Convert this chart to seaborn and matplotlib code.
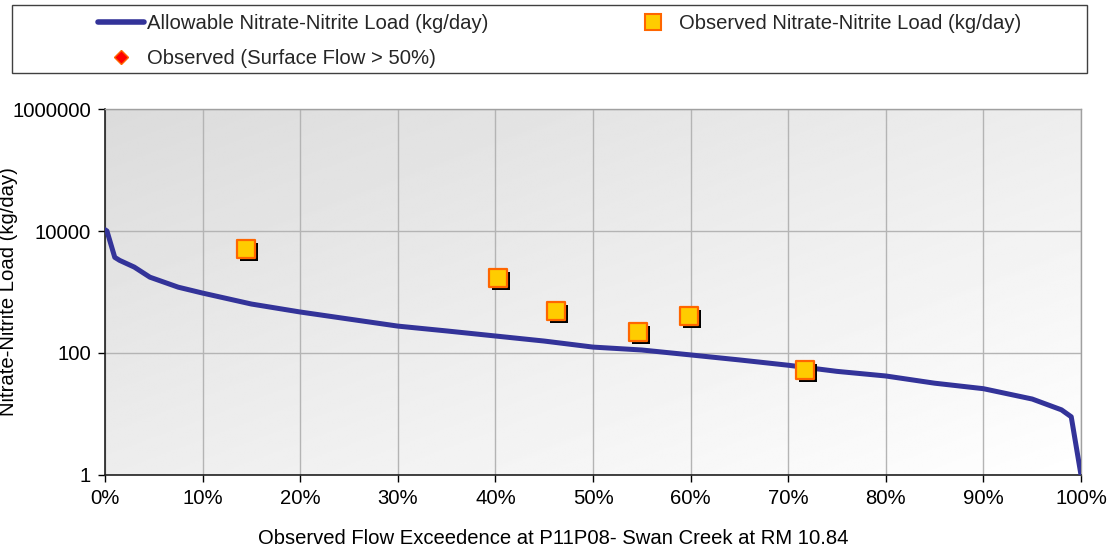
import numpy as np
import matplotlib
matplotlib.use("Agg")
import matplotlib.pyplot as plt
import matplotlib.transforms as mtransforms
from matplotlib.patches import Rectangle
from matplotlib.lines import Line2D
import seaborn as sns

sns.set_theme(style="white")
plt.rcParams['font.family'] = ['Liberation Sans', 'DejaVu Sans']

# Data
curve_pct = [0, 0.2, 1.0, 1.5, 3, 4.6, 7.5, 10, 15, 20, 25, 30, 35, 40, 45, 50, 55, 60, 65,
             70, 75, 80, 85, 90, 95, 98, 99, 100]
curve_load = [10500, 10000, 3700, 3300, 2560, 1750, 1200, 960, 635, 470, 360, 276, 230, 190,
              157, 125, 112, 93, 77, 63, 50, 42, 32, 26, 17.6, 11.7, 9.0, 1]
obs_pct = [14.4, 40.3, 46.2, 54.6, 59.8, 71.7]
obs_load = [5000, 1700, 490, 220, 405, 53]
surf_pct = []
surf_load = []

y_ticks = [1, 100, 10000, 1000000]
y_ticklabels = ["1", "100", "10000", "1000000"]
x_ticks = list(range(0, 101, 10))
x_ticklabels = [f"{v}%" for v in x_ticks]

FS = 14.6
W, H = 1113, 550
fig = plt.figure(figsize=(W / 100, H / 100), dpi=100)
AX_L, AX_R, AX_T, AX_B = 105, 1081, 109, 475
ax = fig.add_axes([AX_L / W, 1 - AX_B / H, (AX_R - AX_L) / W, (AX_B - AX_T) / H])

# gradient background: darker at top-left, white at bottom-right
gx, gy = np.meshgrid(np.linspace(0, 1, 200), np.linspace(0, 1, 200))
g = 0.5 * (gx + gy)
grad = 0.86 + 0.14 * g
ax.imshow(grad, cmap="gray", vmin=0, vmax=1, extent=[0, 1, 0, 1], origin="upper",
          transform=ax.transAxes, aspect="auto", zorder=0, interpolation="bilinear")

ax.set_yscale("log")
ax.set_xlim(0, 100)
ax.set_ylim(1, 1000000)

ax.grid(True, which="major", color="#b4b4b4", linewidth=1.0, zorder=1)
ax.set_axisbelow(True)

sns.lineplot(x=curve_pct, y=curve_load, ax=ax, color="#333399", linewidth=3.6,
             zorder=3, legend=False, sort=False)

shadow = mtransforms.offset_copy(ax.transData, fig=fig, x=3, y=-3, units="dots")
sns.scatterplot(x=obs_pct, y=obs_load, ax=ax, marker="s", s=175, color="black",
                edgecolor="black", linewidth=0, transform=shadow, zorder=4, legend=False)
sns.scatterplot(x=obs_pct, y=obs_load, ax=ax, marker="s", s=175, color="#FFCC00",
                edgecolor="#FF6600", linewidth=1.6, zorder=5, legend=False)
if surf_pct:
    sns.scatterplot(x=surf_pct, y=surf_load, ax=ax, marker="D", s=60, color="#FF0000",
                    edgecolor="#FF6600", zorder=6, legend=False)

ax.set_yticks(y_ticks)
ax.set_yticklabels(y_ticklabels)
ax.yaxis.set_minor_locator(matplotlib.ticker.NullLocator())
ax.set_xticks(x_ticks)
ax.set_xticklabels(x_ticklabels)
ax.tick_params(axis="both", which="major", direction="out", length=5, width=1,
               color="black", labelsize=FS, labelcolor="black", pad=5, left=True, bottom=True)

for side in ["left", "bottom"]:
    ax.spines[side].set_color("#202020")
    ax.spines[side].set_linewidth(1.2)
for side in ["top", "right"]:
    ax.spines[side].set_color("#a0a0a0")
    ax.spines[side].set_linewidth(1.0)

ax.set_xlabel("Observed Flow Exceedence at P11P08- Swan Creek at RM 10.84", fontsize=FS,
              color="black")
ax.xaxis.set_label_coords((553 - AX_L) / (AX_R - AX_L), (AX_B - 529) / (AX_B - AX_T))
ax.set_ylabel("Nitrate-Nitrite Load (kg/day)", fontsize=FS, color="black")
ax.yaxis.set_label_coords((18 - AX_L) / (AX_R - AX_L), 0.5)

# legend frame
fig.patches.append(Rectangle((12 / W, 1 - 73 / H), (1087 - 12) / W, (73 - 5) / H,
                             transform=fig.transFigure, facecolor="white",
                             edgecolor="#404040", linewidth=1.0, zorder=0))
h_line = Line2D([], [], color="#333399", linewidth=4)
h_diam = Line2D([], [], color="#FF0000", marker="D", markersize=7, linestyle="none",
                markeredgecolor="#FF6600")
h_sq = Line2D([], [], color="#FFCC00", marker="s", markersize=11, linestyle="none",
              markeredgecolor="#FF6600", markeredgewidth=1.5)
fig.legend([h_line, h_diam, h_sq],
           ["Allowable Nitrate-Nitrite Load (kg/day)", "Observed (Surface Flow > 50%)",
            "Observed Nitrate-Nitrite Load (kg/day)"],
           ncol=2, loc="upper left", bbox_to_anchor=(98 / W, 1 - 14 / H),
           frameon=False, fontsize=FS, handlelength=2.25, handletextpad=0.15,
           columnspacing=7.0, labelspacing=0.8, borderpad=0, borderaxespad=0)

fig.savefig("out.png", dpi=100)
